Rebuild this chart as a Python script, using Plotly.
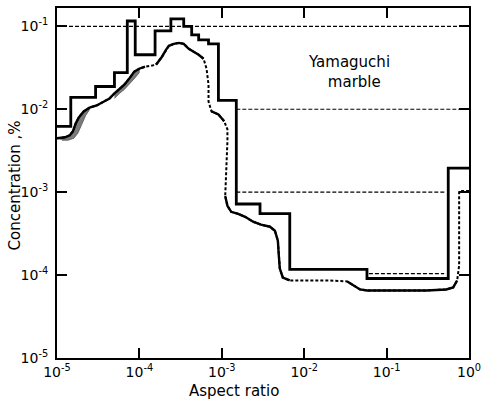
import plotly.graph_objects as go

# ---- data ----
# upper-bound step curve: bin edges (aspect ratio) and levels (concentration, %)
step_edges = [1.0e-5, 1.47e-5, 2.94e-5, 4.98e-5, 7.13e-5, 8.9e-5, 1.55e-4, 2.41e-4,
              3.45e-4, 4.31e-4, 5.24e-4, 6.9e-4, 9.1e-4, 1.5e-3, 2.91e-3, 6.68e-3,
              0.0578, 0.56, 1.0]
step_levels = [6.2e-3, 0.0139, 0.0188, 0.0276, 0.116, 0.0454, 0.088, 0.123, 0.1,
               0.079, 0.0687, 0.0615, 0.0128, 7.2e-4, 5.5e-4, 1.17e-4, 9.1e-5, 1.95e-3]

# lower (measured) curve
curve_x = [1.0e-5, 1.25e-5, 1.43e-5, 1.56e-5, 1.69e-5, 1.84e-5, 2.11e-5, 2.49e-5, 3.03e-5,
           3.78e-5, 4.34e-5, 4.98e-5, 5.71e-5, 6.56e-5, 7.53e-5, 8.66e-5, 9.95e-5, 1.17e-4,
           1.39e-4, 1.59e-4, 1.88e-4, 2.10e-4, 2.28e-4, 2.62e-4, 3.01e-4, 3.45e-4, 3.97e-4,
           4.56e-4, 5.24e-4, 6.01e-4, 6.53e-4, 6.90e-4, 6.90e-4, 7.50e-4, 9.10e-4, 1.07e-3,
           1.17e-3, 1.17e-3, 1.14e-3, 1.10e-3, 1.10e-3, 1.17e-3, 1.30e-3, 1.58e-3, 1.92e-3,
           2.40e-3, 2.99e-3, 3.84e-3, 4.41e-3, 4.79e-3, 4.92e-3, 5.06e-3, 5.50e-3, 6.68e-3,
           0.0110, 0.0191, 0.0333, 0.0404, 0.0476, 0.0578, 0.133, 0.304, 0.530, 0.643,
           0.718, 0.759, 0.759, 0.759, 1.0]
curve_y = [4.47e-3, 4.59e-3, 4.85e-3, 5.42e-3, 6.76e-3, 7.98e-3, 9.42e-3, 0.0105, 0.0111,
           0.0124, 0.0135, 0.0155, 0.0173, 0.0198, 0.0234, 0.0284, 0.0308, 0.0326,
           0.0335, 0.0344, 0.0430, 0.0521, 0.0582, 0.0615, 0.0632, 0.0615, 0.0536,
           0.0493, 0.0454, 0.0406, 0.0308, 0.0198, 0.0124, 9.42e-3, 8.67e-3, 7.15e-3,
           5.73e-3, 4.11e-3, 2.37e-3, 1.36e-3, 9.0e-4, 6.84e-4, 5.79e-4, 5.48e-4, 5.04e-4,
           4.40e-4, 4.05e-4, 3.83e-4, 3.43e-4, 2.60e-4, 1.72e-4, 1.20e-4, 9.35e-5, 8.61e-5,
           8.61e-5, 8.61e-5, 8.38e-5, 7.50e-5, 6.71e-5, 6.53e-5, 6.53e-5, 6.53e-5, 6.71e-5, 7.10e-5,
           8.61e-5, 1.30e-4, 3.43e-4, 1.03e-3, 1.03e-3]

# shaded scatter bands
band1_x = [1.0e-5, 1.25e-5, 1.43e-5, 1.56e-5, 1.69e-5, 1.84e-5, 2.11e-5, 2.49e-5,
           2.49e-5, 2.23e-5, 2.00e-5, 1.79e-5, 1.60e-5, 1.36e-5, 1.15e-5]
band1_y = [4.47e-3, 4.59e-3, 4.85e-3, 5.42e-3, 6.76e-3, 7.98e-3, 9.42e-3, 0.0105,
           9.95e-3, 8.43e-3, 6.58e-3, 5.13e-3, 4.47e-3, 4.23e-3, 4.23e-3]
band2_x = [4.98e-5, 5.71e-5, 6.56e-5, 7.53e-5, 8.66e-5, 9.95e-5,
           9.95e-5, 8.66e-5, 7.53e-5, 6.56e-5, 5.71e-5, 4.98e-5]
band2_y = [0.0155, 0.0173, 0.0198, 0.0234, 0.0284, 0.0308,
           0.0276, 0.0234, 0.0198, 0.0173, 0.0155, 0.0135]

# dashed reference levels: (x start, x end, level)
dash_x0 = [1.0e-5, 1.5e-3, 1.5e-3, 0.061]
dash_x1 = [1.0, 1.0, 0.53, 0.50]
dash_lv = [0.1, 0.01, 1.0e-3, 1.04e-4]

x_ticks = [1e-5, 1e-4, 1e-3, 1e-2, 1e-1, 1e0]
x_ticktext = ["10<sup>-5</sup>", "10<sup>-4</sup>", "10<sup>-3</sup>", "10<sup>-2</sup>",
              "10<sup>-1</sup>", "10<sup>0</sup>"]
y_ticks = [1e-5, 1e-4, 1e-3, 1e-2, 1e-1]
y_ticktext = ["10<sup>-5</sup>", "10<sup>-4</sup>", "10<sup>-3</sup>", "10<sup>-2</sup>",
              "10<sup>-1</sup>"]

FONT = "DejaVu Sans"
fig = go.Figure()

# dashed levels
for x0, x1, lv in zip(dash_x0, dash_x1, dash_lv):
    fig.add_trace(go.Scatter(x=[x0, x1], y=[lv, lv], mode="lines",
                             line=dict(color="black", width=1.2, dash="4px,2px"),
                             hoverinfo="skip", showlegend=False))

# shaded bands
for bx, by in [(band1_x, band1_y), (band2_x, band2_y)]:
    fig.add_trace(go.Scatter(x=bx, y=by, mode="lines", fill="toself",
                             fillcolor="#7a7a7a", line=dict(color="#555", width=0.8),
                             hoverinfo="skip", showlegend=False))

# lower curve: dotted underlay + solid pieces
fig.add_trace(go.Scatter(x=curve_x, y=curve_y, mode="lines",
                         line=dict(color="black", width=2, dash="3px,2px"),
                         showlegend=False))
solid_ranges = [(0, 18), (19, 30), (33, 36), (40, 54), (56, 65)]
sx, sy = [], []
for a, b in solid_ranges:
    sx += curve_x[a:b] + [None]
    sy += curve_y[a:b] + [None]
fig.add_trace(go.Scatter(x=sx, y=sy, mode="lines", connectgaps=False,
                         line=dict(color="black", width=2.4), showlegend=False))

# upper step curve
fig.add_trace(go.Scatter(x=step_edges, y=step_levels + [step_levels[-1]], mode="lines",
                         line=dict(color="black", width=2.8, shape="hv"),
                         showlegend=False))

L, R, T, B = 57, 14, 6, 44
W, H = 487, 402
pw, ph = W - L - R, H - T - B

def px2paper(px, py):
    return (px - L) / pw, (H - B - py) / ph

ax = dict(showline=True, linecolor="black", linewidth=2, mirror="ticks",
          ticks="inside", ticklen=10, tickwidth=1.5, tickcolor="black",
          showgrid=False, zeroline=False,
          tickfont=dict(family=FONT, size=14, color="black"))

fig.update_layout(
    width=W, height=H,
    margin=dict(l=L, r=R, t=T, b=B),
    paper_bgcolor="white", plot_bgcolor="white",
    xaxis=dict(type="log", range=[-5, 0], tickvals=x_ticks, ticktext=x_ticktext,
               ticklabelstandoff=0, **ax),
    yaxis=dict(type="log", range=[-5, -0.779], tickvals=y_ticks, ticktext=y_ticktext,
               ticklabelstandoff=4, **ax),
    showlegend=False,
)

ann = []
xp, yp = px2paper(236, 391)
ann.append(dict(x=xp, y=yp, xref="paper", yref="paper", text="Aspect ratio",
                xanchor="center", yanchor="middle",
                showarrow=False, font=dict(family=FONT, size=15, color="black")))
xp, yp = px2paper(15, 184)
ann.append(dict(x=xp, y=yp, xref="paper", yref="paper", text="Concentration ,%",
                xanchor="center", yanchor="middle",
                textangle=-90, showarrow=False, font=dict(family=FONT, size=15, color="black")))
xp, yp = px2paper(352, 70)
ann.append(dict(x=xp, y=yp, xref="paper", yref="paper", text="Yamaguchi<br>  marble",
                xanchor="center", yanchor="middle",
                showarrow=False, align="center",
                font=dict(family=FONT, size=15, color="black")))
fig.update_layout(annotations=ann)

fig.write_html("out.html", config={"displayModeBar": False},
               post_script="document.body.style.margin='0';document.body.style.padding='0';")
